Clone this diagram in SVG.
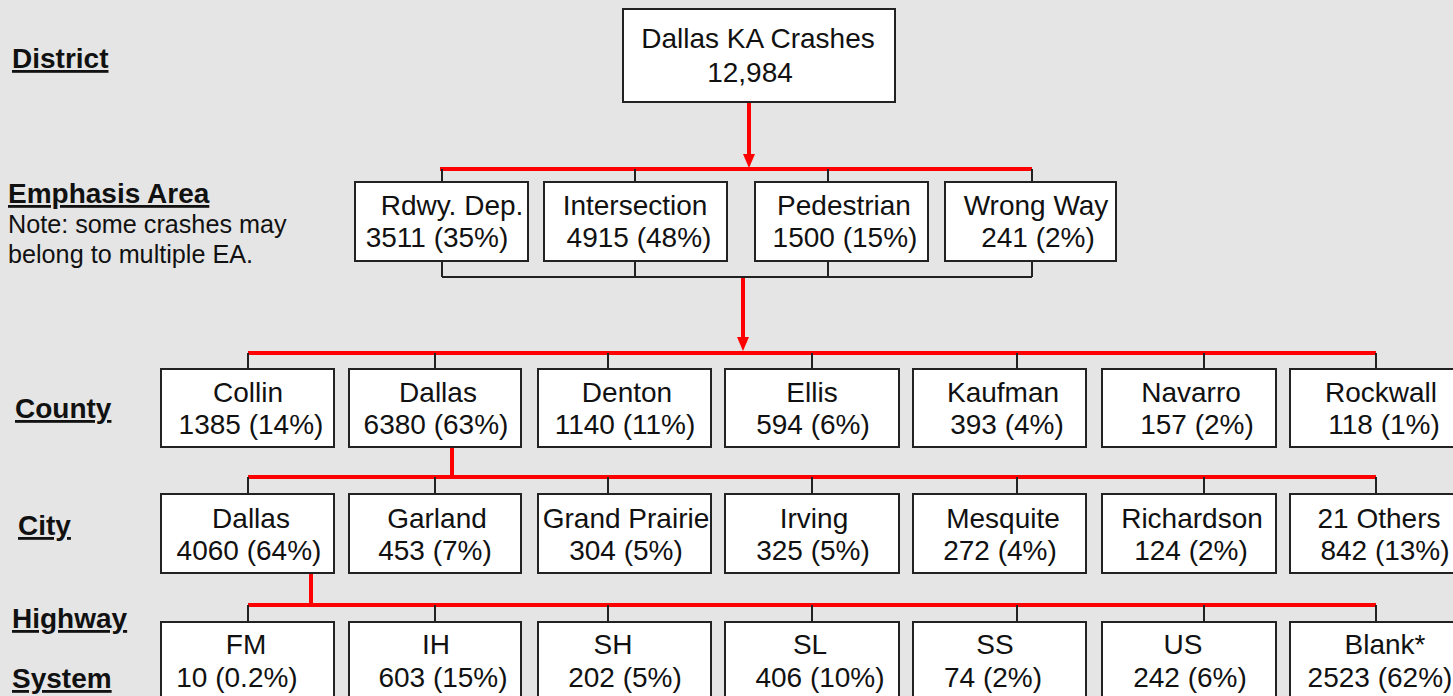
<svg xmlns="http://www.w3.org/2000/svg" width="1453" height="696" viewBox="0 0 1453 696">
<defs>
<style>
.bg{fill:#e5e5e5}
.box{fill:#ffffff;stroke:#222222;stroke-width:2}
.t{font-family:"Liberation Sans",Arial,sans-serif;font-size:28px;fill:#111111;text-anchor:middle}
.lbl{font-family:"Liberation Sans",Arial,sans-serif;font-size:28px;font-weight:bold;fill:#111111;text-decoration:underline}
.note{font-family:"Liberation Sans",Arial,sans-serif;font-size:25.2px;fill:#111111}
.red{stroke:#ff0000;stroke-width:4;fill:none}
.blk{stroke:#222222;stroke-width:2;fill:none}
</style>
</defs>
<rect class="bg" x="0" y="0" width="1453" height="696"/>

<g id="labels">
<text class="lbl" x="12" y="68">District</text>
<text class="lbl" x="8" y="203">Emphasis Area</text>
<text class="note" x="8" y="233">Note: some crashes may</text>
<text class="note" x="8" y="263">belong to multiple EA.</text>
<text class="lbl" x="15" y="418">County</text>
<text class="lbl" x="18" y="535">City</text>
<text class="lbl" x="12" y="628">Highway</text>
<text class="lbl" x="12" y="688">System</text>
</g>

<g id="connectors">
<line class="red" x1="749" y1="102" x2="749" y2="155"/>
<path d="M743,154 L755,154 L749,168 Z" fill="#ff0000"/>
<line class="red" x1="440" y1="169" x2="1032" y2="169"/>
<path class="blk" d="M442,169 V182 M635,169 V182 M828,169 V182 M1032,169 V182"/>
<path class="blk" d="M442,261 V277 M635,261 V277 M828,261 V277 M1032,261 V277 M442,277 H1032"/>
<line class="red" x1="743" y1="278" x2="743" y2="338"/>
<path d="M737,337 L749,337 L743,351 Z" fill="#ff0000"/>
<line class="red" x1="248" y1="353" x2="1376" y2="353"/>
<path class="blk" d="M248,353 V369 M435,353 V369 M608,353 V369 M812,353 V369 M1017,353 V369 M1204,353 V369 M1376,353 V369"/>
<line class="red" x1="452" y1="447" x2="452" y2="477"/>
<line class="red" x1="248" y1="477" x2="1376" y2="477"/>
<path class="blk" d="M248,477 V494 M435,477 V494 M608,477 V494 M812,477 V494 M1017,477 V494 M1204,477 V494 M1376,477 V494"/>
<line class="red" x1="311" y1="573" x2="311" y2="605"/>
<line class="red" x1="248" y1="605" x2="1376" y2="605"/>
<path class="blk" d="M248,605 V622 M435,605 V622 M608,605 V622 M812,605 V622 M1017,605 V622 M1204,605 V622 M1376,605 V622"/>
</g>

<g id="n-district">
<rect class="box" x="623" y="9" width="272" height="93"/>
<text class="t" x="758" y="48">Dallas KA Crashes</text>
<text class="t" x="750" y="82">12,984</text>
</g>

<g id="n-rdwy">
<rect class="box" x="355" y="182" width="173" height="79"/>
<text class="t" x="452" y="215">Rdwy. Dep.</text>
<text class="t" x="437" y="247">3511 (35%)</text>
</g>
<g id="n-intersection">
<rect class="box" x="544" y="182" width="183" height="79"/>
<text class="t" x="635" y="215">Intersection</text>
<text class="t" x="639" y="247">4915 (48%)</text>
</g>
<g id="n-pedestrian">
<rect class="box" x="755" y="182" width="173" height="79"/>
<text class="t" x="844" y="215">Pedestrian</text>
<text class="t" x="845" y="247">1500 (15%)</text>
</g>
<g id="n-wrongway">
<rect class="box" x="945" y="182" width="171" height="79"/>
<text class="t" x="1036" y="215">Wrong Way</text>
<text class="t" x="1038" y="247">241 (2%)</text>
</g>

<g id="n-collin">
<rect class="box" x="161" y="369" width="173" height="78"/>
<text class="t" x="248" y="402">Collin</text>
<text class="t" x="251" y="434">1385 (14%)</text>
</g>
<g id="n-dallas-county">
<rect class="box" x="349" y="369" width="172" height="78"/>
<text class="t" x="438" y="402">Dallas</text>
<text class="t" x="436" y="434">6380 (63%)</text>
</g>
<g id="n-denton">
<rect class="box" x="538" y="369" width="173" height="78"/>
<text class="t" x="627" y="402">Denton</text>
<text class="t" x="625" y="434">1140 (11%)</text>
</g>
<g id="n-ellis">
<rect class="box" x="725" y="369" width="174" height="78"/>
<text class="t" x="812" y="402">Ellis</text>
<text class="t" x="813" y="434">594 (6%)</text>
</g>
<g id="n-kaufman">
<rect class="box" x="913" y="369" width="173" height="78"/>
<text class="t" x="1003" y="402">Kaufman</text>
<text class="t" x="1007" y="434">393 (4%)</text>
</g>
<g id="n-navarro">
<rect class="box" x="1102" y="369" width="174" height="78"/>
<text class="t" x="1191" y="402">Navarro</text>
<text class="t" x="1197" y="434">157 (2%)</text>
</g>
<g id="n-rockwall">
<rect class="box" x="1290" y="369" width="174" height="78"/>
<text class="t" x="1381" y="402">Rockwall</text>
<text class="t" x="1384" y="434">118 (1%)</text>
</g>

<g id="n-dallas-city">
<rect class="box" x="161" y="494" width="173" height="79"/>
<text class="t" x="251" y="528">Dallas</text>
<text class="t" x="249" y="560">4060 (64%)</text>
</g>
<g id="n-garland">
<rect class="box" x="349" y="494" width="172" height="79"/>
<text class="t" x="437" y="528">Garland</text>
<text class="t" x="435" y="560">453 (7%)</text>
</g>
<g id="n-grandprairie">
<rect class="box" x="538" y="494" width="173" height="79"/>
<text class="t" x="626" y="528">Grand Prairie</text>
<text class="t" x="626" y="560">304 (5%)</text>
</g>
<g id="n-irving">
<rect class="box" x="725" y="494" width="174" height="79"/>
<text class="t" x="814" y="528">Irving</text>
<text class="t" x="813" y="560">325 (5%)</text>
</g>
<g id="n-mesquite">
<rect class="box" x="913" y="494" width="173" height="79"/>
<text class="t" x="1003" y="528">Mesquite</text>
<text class="t" x="1000" y="560">272 (4%)</text>
</g>
<g id="n-richardson">
<rect class="box" x="1102" y="494" width="174" height="79"/>
<text class="t" x="1192" y="528">Richardson</text>
<text class="t" x="1191" y="560">124 (2%)</text>
</g>
<g id="n-others">
<rect class="box" x="1290" y="494" width="174" height="79"/>
<text class="t" x="1379" y="528">21 Others</text>
<text class="t" x="1385" y="560">842 (13%)</text>
</g>

<g id="n-fm">
<rect class="box" x="161" y="622" width="173" height="80"/>
<text class="t" x="246" y="654">FM</text>
<text class="t" x="237" y="687">10 (0.2%)</text>
</g>
<g id="n-ih">
<rect class="box" x="349" y="622" width="172" height="80"/>
<text class="t" x="436" y="654">IH</text>
<text class="t" x="443" y="687">603 (15%)</text>
</g>
<g id="n-sh">
<rect class="box" x="538" y="622" width="173" height="80"/>
<text class="t" x="613" y="654">SH</text>
<text class="t" x="625" y="687">202 (5%)</text>
</g>
<g id="n-sl">
<rect class="box" x="725" y="622" width="174" height="80"/>
<text class="t" x="810" y="654">SL</text>
<text class="t" x="820" y="687">406 (10%)</text>
</g>
<g id="n-ss">
<rect class="box" x="913" y="622" width="173" height="80"/>
<text class="t" x="995" y="654">SS</text>
<text class="t" x="993" y="687">74 (2%)</text>
</g>
<g id="n-us">
<rect class="box" x="1102" y="622" width="174" height="80"/>
<text class="t" x="1183" y="654">US</text>
<text class="t" x="1190" y="687">242 (6%)</text>
</g>
<g id="n-blank">
<rect class="box" x="1290" y="622" width="174" height="80"/>
<text class="t" x="1385" y="654">Blank*</text>
<text class="t" x="1380" y="687">2523 (62%)</text>
</g>
</svg>
